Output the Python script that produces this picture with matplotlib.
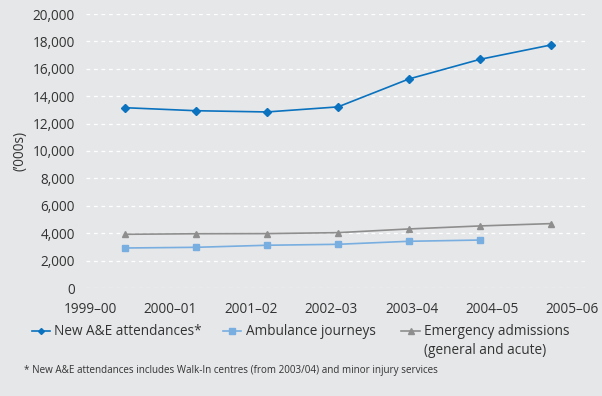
import matplotlib
matplotlib.use("Agg")
import matplotlib.pyplot as plt
import numpy as np
from matplotlib.lines import Line2D

plt.rcParams['font.family'] = ['Open Sans', 'DejaVu Sans']

years = ["1999–00", "2000–01", "2001–02", "2002–03", "2003–04", "2004–05", "2005–06"]
ae_attendances = [13160, 12940, 12850, 13220, 15260, 16690, 17740]
ambulance = [2920, 2970, 3120, 3190, 3410, 3500]
emergency = [3920, 3960, 3970, 4040, 4310, 4530, 4700]
yticks = [0, 2000, 4000, 6000, 8000, 10000, 12000, 14000, 16000, 18000, 20000]
series_labels = ["New A&E attendances*", "Ambulance journeys", "Emergency admissions\n(general and acute)"]

BG = "#e6e7e9"
TXT = "#333333"
C_AE = "#0a72be"
C_AMB = "#78aee0"
C_EM = "#8e8e8e"
FS = 9.8

fig = plt.figure(figsize=(6.02, 3.96), dpi=100, facecolor=BG)
ax = fig.add_axes([86/602, 1-288/396, (585-86)/602, (288-14)/396], facecolor=BG)

x = np.arange(len(years))
styles = [dict(color=C_AE, marker='D', ms=4), dict(color=C_AMB, marker='s', ms=5), dict(color=C_EM, marker='^', ms=5)]
ax.plot(x, ae_attendances, lw=1.2, **styles[0])
ax.plot(x[:len(ambulance)], ambulance, lw=1.2, **styles[1])
ax.plot(x, emergency, lw=1.2, **styles[2])

ax.set_xlim(-0.549, 6.479)
ax.set_ylim(0, 20000)
ax.set_yticks(yticks)
ax.set_yticklabels([f"{v:,}" for v in yticks])
ax.set_xticks(np.linspace(-0.49, 6.30, len(years)))
ax.set_xticklabels(years)
ax.tick_params(length=0, labelsize=FS, colors=TXT, pad=8)
ax.tick_params(axis='x', pad=10)
for s in ax.spines.values():
    s.set_visible(False)
ax.grid(axis='y', color='white', ls=(0, (3, 3)), lw=0.9)
ax.set_axisbelow(True)
ax.set_ylabel("(’000s)", fontsize=FS, color=TXT)
ax.yaxis.set_label_coords(-0.117, 0.5)

# manual legend
W, H = 602, 396
leg_y = 1 - 331/H
handle_x = [(32, 50), (223, 241), (401, 420)]
text_x = [54, 246, 424]
for (x0, x1), tx, st, lab in zip(handle_x, text_x, styles, series_labels):
    fig.add_artist(Line2D([x0/W, x1/W], [leg_y, leg_y], transform=fig.transFigure, lw=1.2,
                          color=st['color']))
    fig.add_artist(Line2D([(x0+x1)/2/W], [leg_y], transform=fig.transFigure, lw=0,
                          marker=st['marker'], ms=st['ms']-1, color=st['color']))
    for i, line in enumerate(lab.split("\n")):
        fig.text(tx/W, 1 - (335 + 19*i)/H, line, fontsize=FS, color=TXT, ha='left', va='baseline')

fig.text(24/602, 1-371/396, "* New A&E attendances includes Walk-In centres (from 2003/04) and minor injury services",
         fontsize=7.1, color=TXT, va='center', ha='left')

fig.savefig("out.png", dpi=100, facecolor=BG)
